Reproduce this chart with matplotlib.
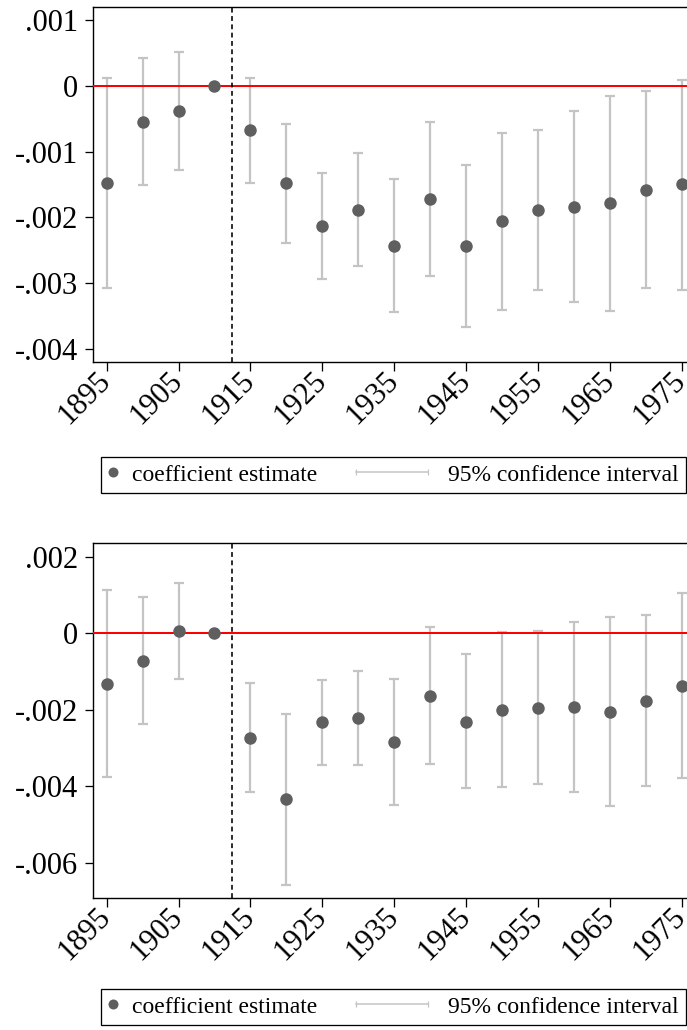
import numpy as np
import matplotlib
matplotlib.use("Agg")
import matplotlib.pyplot as plt
from matplotlib.lines import Line2D
from matplotlib.legend_handler import HandlerBase
from matplotlib.transforms import ScaledTranslation

# ---------------- data ----------------
years = [1895, 1900, 1905, 1910, 1915, 1920, 1925, 1930, 1935, 1940,
         1945, 1950, 1955, 1960, 1965, 1970, 1975]
event_year = 1912.5

# panel A
coef_a = [-1.476, -0.543, -0.376, 0.0, -0.675, -1.481, -2.131, -1.883, -2.431,
          -1.720, -2.440, -2.060, -1.883, -1.837, -1.786, -1.583, -1.497]
lo_a = [-3.080, -1.507, -1.274, 0.0, -1.481, -2.385, -2.942, -2.745, -3.435,
        -2.892, -3.673, -3.409, -3.105, -3.293, -3.425, -3.075, -3.100]
hi_a = [0.126, 0.426, 0.518, 0.0, 0.126, -0.574, -1.319, -1.025, -1.421,
        -0.553, -1.202, -0.710, -0.665, -0.376, -0.147, -0.071, 0.091]

# panel B
coef_b = [-1.322, -0.722, 0.068, 0.0, -2.722, -4.329, -2.313, -2.200, -2.843,
          -1.627, -2.305, -1.992, -1.940, -1.922, -2.052, -1.757, -1.366]
lo_b = [-3.747, -2.373, -1.199, 0.0, -4.138, -6.563, -3.434, -3.434, -4.486,
        -3.416, -4.052, -4.016, -3.938, -4.138, -4.521, -4.000, -3.791]
hi_b = [1.121, 0.947, 1.320, 0.0, -1.296, -2.096, -1.218, -0.975, -1.200,
        0.172, -0.548, 0.042, 0.060, 0.295, 0.425, 0.485, 1.051]

scale = 1e-3  # values above are in thousandths

xticks = [1895, 1905, 1915, 1925, 1935, 1945, 1955, 1965, 1975]
xticklabels = ["1895", "1905", "1915", "1925", "1935", "1945", "1955", "1965", "1975"]

yticks_a = [0.001, 0.0, -0.001, -0.002, -0.003, -0.004]
yticklabels_a = [".001", "0", "-.001", "-.002", "-.003", "-.004"]
yticks_b = [0.002, 0.0, -0.002, -0.004, -0.006]
yticklabels_b = [".002", "0", "-.002", "-.004", "-.006"]

legend_labels = ["coefficient estimate", "95% confidence interval"]

# ---------------- style ----------------
plt.rcParams['font.family'] = ['Liberation Serif', 'DejaVu Serif']
W, H, DPI = 687, 1030, 100
PT = 72.0 / DPI  # points per pixel

PT_COLOR = "#5f5f5f"
CI_COLOR = "#c4c4c4"
TICK_FS = 22
LEG_FS = 17

fig = plt.figure(figsize=(W / DPI, H / DPI), dpi=DPI)


def px_axes(left, top, right, bottom):
    return fig.add_axes([left / W, 1 - bottom / H, (right - left) / W, (bottom - top) / H])


class CIHandler(HandlerBase):
    def __init__(self, length, gap, **kw):
        super().__init__(**kw)
        self.length = length
        self.gap = gap

    def create_artists(self, legend, orig_handle, xdescent, ydescent,
                       width, height, fontsize, trans):
        y = height / 2 - ydescent
        x1 = width - xdescent - self.gap
        x0 = x1 - self.length
        ln = Line2D([x0, x1], [y, y], color=CI_COLOR, lw=1.5 * PT)
        caps = Line2D([x0, x1], [y, y], ls='none', marker='|', markersize=5,
                      mew=1.2 * PT, color=CI_COLOR)
        ln.set_transform(trans)
        caps.set_transform(trans)
        return [ln, caps]


def panel(ax, coef, lo, hi, ylim, yticks, yticklabels, legend_top):
    c = np.array(coef) * scale
    l = np.array(lo) * scale
    h = np.array(hi) * scale
    ax.errorbar(years, c, yerr=[c - l, h - c], fmt='none', ecolor=CI_COLOR,
                elinewidth=2.2 * PT, capsize=5 * PT, capthick=2.2 * PT,
                zorder=2)
    ax.axhline(0, color='#ff0000', lw=2.0 * PT, zorder=3)
    ax.axvline(event_year, color='black', lw=1.6 * PT, ls=(0, (3, 2.2)), zorder=3)
    ax.plot(years, c, 'o', color=PT_COLOR, markersize=12.5 * PT, mec='none', zorder=4)

    px_per_year = (681.5 - 106.7) / 80.0
    x_left = 1895 - (106.7 - 93) / px_per_year
    x_right = 1975 + (695 - 681.5) / px_per_year
    ax.set_xlim(x_left, x_right)
    ax.set_ylim(*ylim)
    ax.set_xticks(xticks)
    ax.set_xticklabels(xticklabels, rotation=45, ha='right', va='center',
                       rotation_mode='anchor', fontsize=TICK_FS)
    shift = ScaledTranslation(3.5 / DPI, -1.0 / DPI, fig.dpi_scale_trans)
    for lab in ax.get_xticklabels():
        lab.set_transform(lab.get_transform() + shift)
    ax.set_yticks(yticks)
    ax.set_yticklabels(yticklabels, fontsize=TICK_FS)
    ax.tick_params(axis='both', direction='out', length=8.5 * PT, width=1.3 * PT,
                   color='black')
    ax.tick_params(axis='x', pad=4.5)
    ax.tick_params(axis='y', pad=4.5)
    for s in ax.spines.values():
        s.set_linewidth(1.4 * PT)
        s.set_color('black')

    h_pt = Line2D([], [], ls='none', marker='o', color=PT_COLOR, mec='none',
                  markersize=10 * PT)
    h_ci = Line2D([], [], color=CI_COLOR)
    leg = fig.legend([h_pt, h_ci], legend_labels, loc='upper left',
                     bbox_to_anchor=(101 / W, 1 - legend_top / H, (686 - 101) / W, 0),
                     bbox_transform=fig.transFigure, mode='expand', ncol=2,
                     fontsize=LEG_FS, frameon=True, fancybox=False, shadow=False,
                     framealpha=1, edgecolor='black', borderpad=0.3,
                     handlelength=0.4, handletextpad=0.6, columnspacing=4.0,
                     borderaxespad=0,
                     handler_map={h_ci: CIHandler(length=72 * PT, gap=6 * PT)})
    leg.get_frame().set_linewidth(1.3 * PT)


ax1 = px_axes(93, 6.7, 695, 362.3)
panel(ax1, coef_a, lo_a, hi_a, (-0.004207, 0.001207), yticks_a, yticklabels_a, 457)

ax2 = px_axes(93, 543.3, 695, 898.3)
panel(ax2, coef_b, lo_b, hi_b, (-0.00692, 0.00235), yticks_b, yticklabels_b, 989)

fig.savefig("out.png", dpi=DPI)
